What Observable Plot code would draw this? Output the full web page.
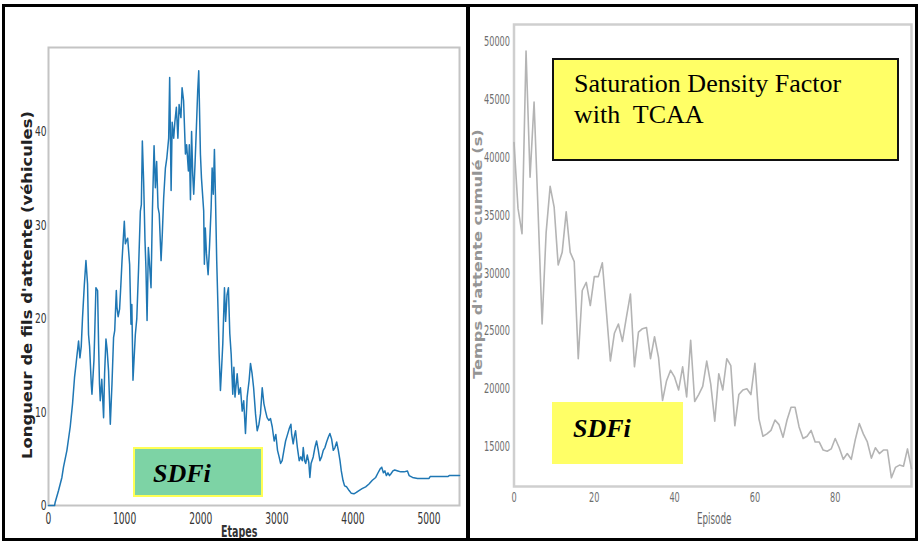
<!DOCTYPE html>
<html>
<head>
<meta charset="utf-8">
<script src="https://cdn.jsdelivr.net/npm/d3@7"></script>
<script src="https://cdn.jsdelivr.net/npm/@observablehq/plot@0.6"></script>
<style>
  html, body { margin: 0; padding: 0; background: #fff; }
  #wrap { position: relative; width: 918px; height: 543px; overflow: hidden; background: #fff; }
  .panel { position: absolute; }
  .abs { position: absolute; white-space: pre; }
  .border { position: absolute; border: 3px solid #000; box-sizing: border-box; pointer-events: none; }
  .rot { position: absolute; white-space: nowrap; }
</style>
</head>
<body>
<div id="wrap"></div>
<script>
// ---------- Left panel data: queue length vs step ----------
const leftSteps = [0,40,80,88,132,176,197,242,285,316,342,360,380,395,413,430,447,470,492,513,526,540,562,571,597,606,623,645,658,670,680,700,724,737,755,770,789,812,834,855,870,891,900,915,934,950,966,996,1010,1022,1040,1066,1084,1095,1110,1141,1160,1184,1207,1220,1233,1250,1268,1280,1295,1312,1325,1347,1365,1387,1404,1421,1439,1455,1479,1495,1513,1536,1555,1579,1592,1611,1625,1645,1660,1680,1700,1716,1740,1755,1775,1799,1815,1838,1850,1865,1880,1895,1908,1925,1943,1960,1974,1996,2010,2039,2048,2060,2075,2097,2115,2137,2150,2165,2180,2193,2210,2228,2242,2259,2275,2290,2312,2327,2345,2364,2382,2400,2421,2436,2450,2479,2500,2522,2545,2565,2588,2610,2636,2654,2675,2695,2720,2742,2765,2785,2808,2830,2851,2872,2895,2917,2940,2965,2987,3009,3030,3049,3070,3093,3115,3137,3162,3185,3195,3215,3232,3246,3270,3294,3315,3335,3347,3365,3380,3400,3420,3434,3450,3478,3500,3522,3545,3566,3588,3610,3632,3654,3676,3697,3720,3742,3764,3786,3808,3830,3847,3869,3890,3917,3950,3979,4013,4045,4079,4120,4167,4211,4255,4299,4330,4356,4378,4400,4420,4439,4460,4480,4500,4525,4549,4590,4628,4672,4716,4738,4783,4849,4935,5000,5014,5154,5250,5264,5400];
const leftQueue = [0,0,0,0.35,1.6,3.0,4.1,5.9,8.4,10.9,13.7,15.0,16.5,17.6,15.8,17.0,20.1,23.5,26.2,23.7,18.3,17.0,13.0,11.9,15.5,18.0,23.3,23.0,17.3,13.0,11.2,13.5,9.4,14.1,17.8,16.7,14.4,8.7,13.0,18.0,18.7,23.0,21.2,20.2,21.0,23.5,26.2,30.4,28.0,28.3,28.6,25.8,19.4,21.5,13.4,18.3,20.0,25.5,31.5,32.2,39.0,34.7,28.3,25.5,19.8,27.6,26.2,23.3,31.5,38.5,34.0,36.8,31.9,31.2,26.2,29.0,32.9,36.1,37.2,39.3,45.8,33.7,41.0,39.3,41.0,42.6,39.3,42.9,41.5,44.7,43.3,37.6,38.6,35.8,38.6,32.7,40.0,35.4,33.3,36.5,40.4,44.3,46.5,37.6,35.0,31.5,25.8,29.7,27.0,24.7,27.6,31.9,36.1,33.3,38.1,33.3,26.2,20.8,16.2,12.3,14.8,17.3,23.3,19.7,22.5,23.3,18.4,16.2,11.9,14.8,11.6,14.1,11.9,12.6,10.1,11.2,7.7,11.6,13.4,15.2,14.1,12.6,9.8,8.0,8.7,9.8,12.6,10.9,10.1,9.4,9.1,9.3,8.4,6.9,7.6,5.9,5.2,4.5,4.8,5.9,6.9,7.5,8.2,8.7,7.6,6.6,7.5,8.0,6.2,4.8,5.2,4.8,6.2,4.8,4.5,5.4,4.6,3.0,4.5,5.2,6.2,6.9,5.9,4.8,5.2,5.9,6.2,6.8,7.3,7.7,7.1,5.9,6.2,6.8,5.9,4.8,3.7,2.7,2.1,2.0,1.6,1.3,1.25,1.4,1.6,1.8,2.0,2.3,2.7,3.0,3.5,3.9,4.1,3.5,3.7,3.2,3.5,3.2,3.4,3.7,3.8,3.7,3.6,3.6,3.7,3.2,3.0,2.9,2.9,2.9,3.1,3.1,3.1,3.2,3.2];
const leftXTicks = [0, 1000, 2000, 3000, 4000, 5000];
const leftYTicks = [0, 10, 20, 30, 40];

// ---------- Right panel data: cumulative waiting time per episode ----------
const rightWait = [41300,35600,33400,49200,38300,44800,35300,25600,33500,37500,35700,30700,31800,35300,31800,31000,22600,28500,29200,27200,29700,29700,30900,26700,22400,24800,25600,24100,26200,28200,21900,24900,25200,25300,22600,24500,22700,19000,20700,21600,21000,19900,21900,19300,24200,18900,19500,20200,22400,20400,17200,21300,19900,22600,22000,16800,19500,19900,20000,19500,22200,17400,15900,16100,16400,17300,16900,15800,17300,18400,18400,16700,15700,15900,16400,15400,15400,14700,14600,14800,15700,14900,13900,14400,13900,15600,17000,16100,15400,14000,14900,14400,14700,14700,12300,13200,13400,13300,14800,13100];
const rightXTicks = [0, 20, 40, 60, 80];
const rightYTicks = [15000, 20000, 25000, 30000, 35000, 40000, 45000, 50000];

const leftData = leftSteps.map((s, i) => ({step: s, queue: leftQueue[i]}));
const rightData = rightWait.map((v, i) => ({episode: i, wait: v}));

const cond = "'DejaVu Sans Condensed', 'DejaVu Sans', sans-serif";
const wrap = document.getElementById("wrap");

// squeeze tick labels horizontally (the reference text is narrow and tall)
function squeeze(svg, perChar) {
  svg.querySelectorAll('g[aria-label$="tick label"] text').forEach(t => {
    const n = t.textContent.length;
    t.setAttribute("textLength", n * perChar);
    t.setAttribute("lengthAdjust", "spacingAndGlyphs");
  });
}

// Left chart
const left = Plot.plot({
  width: 468, height: 543,
  marginLeft: 48, marginRight: 9, marginTop: 47, marginBottom: 38,
  x: {domain: [0, 5400]},
  y: {domain: [0, 49]},
  style: {fontFamily: cond, fontSize: "15px", color: "#333", background: "transparent", overflow: "visible"},
  marks: [
    Plot.frame({stroke: "#c4c4c4", strokeWidth: 2}),
    Plot.axisX({ticks: leftXTicks, tickFormat: d3.format("d"), tickSize: 0, tickPadding: 8, fontSize: 15, label: null}),
    Plot.axisY({ticks: leftYTicks, tickFormat: d3.format("d"), tickSize: 0, tickPadding: 2, fontSize: 14, label: null}),
    Plot.line(leftData, {x: "step", y: "queue", stroke: "#1f77b4", strokeWidth: 1.5})
  ]
});
squeeze(left, 5.8);
left.classList.add("panel");
left.style.left = "0px"; left.style.top = "0px";
wrap.appendChild(left);

// Right chart
const right = Plot.plot({
  width: 450, height: 543,
  marginLeft: 45.5, marginRight: 7, marginTop: 24, marginBottom: 57,
  x: {domain: [0, 99]},
  y: {domain: [11550, 51500]},
  style: {fontFamily: cond, fontSize: "14px", color: "#6e6e6e", background: "transparent", overflow: "visible"},
  marks: [
    Plot.frame({stroke: "#cfcfcf", strokeWidth: 2.5}),
    Plot.axisX({ticks: rightXTicks, tickFormat: d3.format("d"), tickSize: 0, tickPadding: 6, label: null}),
    Plot.axisY({ticks: rightYTicks, tickFormat: d3.format("d"), tickSize: 0, tickPadding: 4, label: null}),
    Plot.line(rightData, {x: "episode", y: "wait", stroke: "#b4b4b4", strokeWidth: 1.6})
  ]
});
squeeze(right, 5.2);
right.classList.add("panel");
right.style.left = "468px"; right.style.top = "0px";
wrap.appendChild(right);

function addDiv(cls, css, text) {
  const d = document.createElement("div");
  d.className = cls;
  Object.assign(d.style, css);
  if (text != null) d.textContent = text;
  wrap.appendChild(d);
  return d;
}

// Axis titles
addDiv("rot", {left: "27px", top: "285px", font: "bold 14px 'DejaVu Sans', sans-serif", color: "#222", lineHeight: "14px",
  transform: "translate(-50%, -50%) rotate(-90deg) scaleX(1.17)"}, "Longueur de fils d'attente (véhicules)");
addDiv("abs", {left: "221px", top: "522px", font: "600 16px " + cond, color: "#333", transformOrigin: "left top", transform: "scaleX(0.66)"}, "Etapes");
addDiv("rot", {left: "478px", top: "254px", font: "bold 12px " + cond, color: "#959595", lineHeight: "12px",
  transform: "translate(-50%, -50%) rotate(-90deg) scaleX(1.5)"}, "Temps d'attente cumulé (s)");
addDiv("abs", {left: "697px", top: "510px", font: "15px " + cond, color: "#666", transformOrigin: "left top", transform: "scaleX(0.65)"}, "Episode");

// Annotation boxes
addDiv("abs", {left: "133px", top: "447px", width: "130px", height: "50px", boxSizing: "border-box",
  background: "#7dd3a5", border: "2px solid #ffff55"});
addDiv("abs", {left: "153px", top: "459px", font: "italic bold 26px 'Liberation Serif', 'DejaVu Serif', serif", color: "#000", lineHeight: "30px"}, "SDFi");

addDiv("abs", {left: "552px", top: "58px", width: "347px", height: "103px", boxSizing: "border-box",
  background: "#ffff66", border: "2px solid #111"});
addDiv("abs", {left: "574px", top: "68px", font: "26px 'Liberation Serif', 'DejaVu Serif', serif", color: "#000", lineHeight: "31px"}, "Saturation Density Factor\nwith  TCAA");

addDiv("abs", {left: "552px", top: "402px", width: "131px", height: "62px", background: "#ffff66"});
addDiv("abs", {left: "573px", top: "414px", font: "italic bold 26px 'Liberation Serif', 'DejaVu Serif', serif", color: "#000", lineHeight: "30px"}, "SDFi");

// Panel borders
addDiv("border", {left: "2px", top: "4px", width: "467px", height: "537px"});
addDiv("border", {left: "466px", top: "4px", width: "452px", height: "537px", borderLeftWidth: "4px"});
</script>
</body>
</html>
